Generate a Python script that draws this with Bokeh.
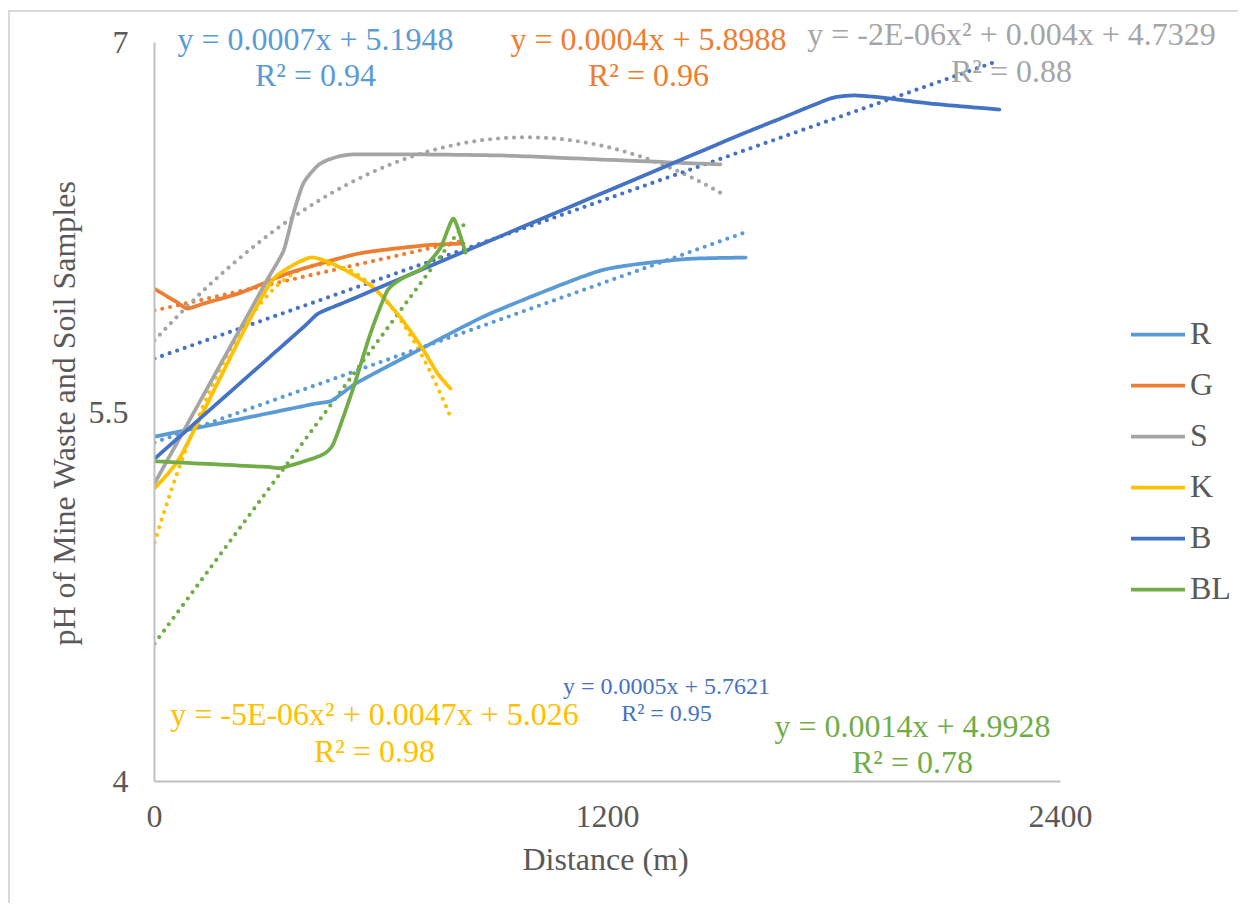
import numpy as np
from bokeh.plotting import figure
from bokeh.models import Label, Legend, LegendItem, FixedTicker, Range1d, Title
from bokeh.embed import file_html
from bokeh.resources import INLINE

# ---------------- data ----------------
series_names = ["R", "G", "S", "K", "B", "BL"]
series_colors = ["#5B9BD5", "#ED7D31", "#A5A5A5", "#FFC000", "#4472C4", "#70AD47"]

R_x = [0, 420, 470, 538, 713, 890, 1181, 1400, 1566]
R_y = [5.40, 5.532, 5.547, 5.62, 5.762, 5.90, 6.074, 6.12, 6.127]

G_x = [0, 60, 87, 130, 230, 360, 540, 713, 819]
G_y = [6.00, 5.945, 5.92, 5.94, 5.985, 6.066, 6.143, 6.176, 6.184]

S_x = [0, 300, 342, 368, 395, 440, 520, 900, 1181, 1499]
S_y = [5.21, 6.04, 6.155, 6.306, 6.43, 6.509, 6.545, 6.542, 6.525, 6.505]

K_x = [0, 69, 230, 315, 413, 493, 580, 652, 713, 750, 784]
K_y = [5.19, 5.32, 5.81, 6.04, 6.127, 6.086, 6.005, 5.883, 5.75, 5.656, 5.595]

B_x = [0, 395, 434, 500, 1534, 1658, 1791, 1852, 1923, 2056, 2238]
B_y = [5.31, 5.845, 5.90, 5.943, 6.614, 6.691, 6.773, 6.785, 6.777, 6.752, 6.728]

BL_x = [0, 300, 339, 440, 474, 527, 572, 617, 660, 713, 758, 792, 824]
BL_y = [5.30, 5.277, 5.274, 5.323, 5.372, 5.599, 5.819, 5.993, 6.046, 6.086, 6.168, 6.285, 6.147]

# trend lines: values
trend_R_x = [0, 1566]
trend_R_y = [5.376, 6.23]
trend_G_x = [0, 819]
trend_G_y = [5.912, 6.196]
trend_S_x = [0, 983, 1499]
trend_S_y = [5.79, 6.615, 6.39]
trend_K_x = [0, 450, 784]
trend_K_y = [4.97, 6.10, 5.48]
trend_B_x = [0, 2238]
trend_B_y = [5.717, 6.927]
trend_BL_x = [0, 824]
trend_BL_y = [4.56, 6.27]

eq_texts = ["y = 0.0007x + 5.1948", "y = 0.0004x + 5.8988", "y = -2E-06x² + 0.004x + 4.7329",
            "y = -5E-06x² + 0.0047x + 5.026", "y = 0.0005x + 5.7621", "y = 0.0014x + 4.9928"]
r2_texts = ["R² = 0.94", "R² = 0.96", "R² = 0.88", "R² = 0.98", "R² = 0.95", "R² = 0.78"]

x_ticks = [0, 1200, 2400]
y_ticks = [4, 5.5, 7]
x_title = "Distance (m)"
y_title = "pH of Mine Waste and Soil Samples"

# ---------------- layout (page pixels) ----------------
OX, OY = 10, 12                 # canvas origin on the page (margin + border)
AX_L, AX_R, AX_T, AX_B = 154, 1060, 42, 781
W = 1230
MB = 124
H = AX_B - OY + MB
X0, X1, Y0, Y1 = 0, 2400, 4, 7
SX = (AX_R - AX_L) / (X1 - X0)
SY = (AX_B - AX_T) / (Y1 - Y0)
FONT = "Liberation Serif"
GREY_TXT = "#595959"


def smooth(xs, ys, c=0.4, n=24):
    P = np.column_stack([np.asarray(xs, float) * SX, np.asarray(ys, float) * SY])
    k = len(P)
    if k < 3:
        return list(xs), list(ys)
    ox, oy = [], []
    for i in range(k - 1):
        p0 = P[i - 1] if i > 0 else P[i]
        p1, p2 = P[i], P[i + 1]
        p3 = P[i + 2] if i + 2 < k else P[i + 1]
        seg = np.linalg.norm(p2 - p1)
        m1 = (1 - c) * (p2 - p0) / 2
        m2 = (1 - c) * (p3 - p1) / 2
        for m in (m1, m2):
            L = np.linalg.norm(m) / 3
            if L > 0.4 * seg:
                m *= 0.4 * seg / L
        c1 = p1 + m1 / 3
        c2 = p2 - m2 / 3
        t = np.linspace(0, 1, n)[:, None]
        if i > 0:
            t = t[1:]
        b = (1 - t) ** 3 * p1 + 3 * (1 - t) ** 2 * t * c1 + 3 * (1 - t) * t ** 2 * c2 + t ** 3 * p2
        ox.extend(b[:, 0] / SX)
        oy.extend(b[:, 1] / SY)
    return ox, oy


def trend(tx, ty):
    deg = len(tx) - 1
    coef = np.polyfit(tx, ty, deg)
    xx = np.linspace(min(tx), max(tx), 200)
    return xx, np.polyval(coef, xx)


def px2data(px, py):
    return X0 + (px - AX_L) / SX, Y1 - (py - AX_T) / SY


p = figure(width=W, height=H,
           x_range=Range1d(X0, X1 + (OX + W - AX_R) / SX),
           y_range=Range1d(Y0, Y1 + (AX_T - OY) / SY),
           output_backend="svg", toolbar_location=None,
           min_border_left=AX_L - OX, min_border_right=0, min_border_top=0, min_border_bottom=MB)
p.styles = {"margin-left": "8px", "margin-top": "10px",
            "border-top": "2px solid #D9D9D9", "border-left": "2px solid #D9D9D9"}
p.grid.visible = False
p.outline_line_color = None
p.background_fill_color = "white"
p.border_fill_color = "white"

for ax in (p.xaxis[0], p.yaxis[0]):
    ax.axis_line_color = "#BFBFBF"
    ax.axis_line_width = 2
    ax.major_tick_line_color = None
    ax.minor_tick_line_color = None
    ax.major_tick_out = 0
    ax.major_tick_in = 0
    ax.major_label_text_font = FONT
    ax.major_label_text_font_size = "32px"
    ax.major_label_text_color = GREY_TXT

p.xaxis[0].bounds = (X0, X1)
p.yaxis[0].bounds = (Y0, Y1)
p.xaxis[0].ticker = FixedTicker(ticks=x_ticks)
p.yaxis[0].ticker = FixedTicker(ticks=y_ticks)
p.xaxis[0].major_label_standoff = 24
p.yaxis[0].major_label_standoff = 26

# axis titles as side titles, so they can be centred on the axis span (not the extended frame)
xt = Title(text=x_title, align="left", offset=368, vertical_align="top", standoff=22,
           text_font=FONT, text_font_size="32px", text_color=GREY_TXT, text_font_style="normal")
p.add_layout(xt, "below")
yt = Title(text=y_title, align="left", offset=136, standoff=8,
           text_font=FONT, text_font_size="32px", text_color=GREY_TXT, text_font_style="normal")
p.add_layout(yt, "left")

data = [(R_x, R_y), (G_x, G_y), (S_x, S_y), (K_x, K_y), (B_x, B_y), (BL_x, BL_y)]
trends = [(trend_R_x, trend_R_y), (trend_G_x, trend_G_y), (trend_S_x, trend_S_y),
          (trend_K_x, trend_K_y), (trend_B_x, trend_B_y), (trend_BL_x, trend_BL_y)]

for (tx, ty), col in zip(trends, series_colors):
    xx, yy = trend(tx, ty)
    p.line(xx, yy, line_color=col, line_width=4.2, line_dash="0 8", line_cap="round")

items = []
for name, (xs, ys), col in zip(series_names, data, series_colors):
    sx_, sy_ = smooth(xs, ys)
    r = p.line(sx_, sy_, line_color=col, line_width=3.75, line_join="round", line_cap="round")
    items.append(LegendItem(label=name, renderers=[r]))

legend = Legend(items=items, location=(977, 174), orientation="vertical",
                glyph_width=54, glyph_height=20, label_height=20, spacing=14,
                label_standoff=5, padding=0, margin=0,
                label_text_font=FONT, label_text_font_size="32px", label_text_color=GREY_TXT,
                border_line_color=None, background_fill_alpha=0)
p.add_layout(legend)

# equation label positions (page px: centre x, baseline line 1, baseline line 2) and sizes
label_pos = [(315, 38, 74), (648, 38, 74), (1011, 33, 70), (374, 713, 750), (666, 685, 712), (912, 725, 761)]
label_size = ["32px", "32px", "32px", "32px", "24px", "32px"]
for eq, r2, col, (cx, b1, b2), fs in zip(eq_texts, r2_texts, series_colors, label_pos, label_size):
    for txt, by in ((eq, b1), (r2, b2)):
        dx, dy = px2data(cx, by)
        p.add_layout(Label(x=dx, y=dy, text=txt, text_align="center", text_baseline="alphabetic",
                           text_font=FONT, text_font_size=fs, text_color=col))

open("out.html", "w").write(file_html(p, INLINE))
